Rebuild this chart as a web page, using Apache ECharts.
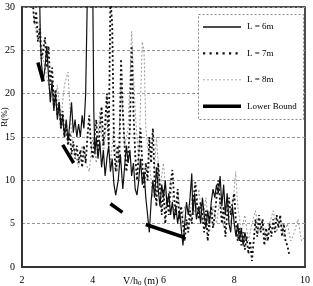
<!DOCTYPE html>
<html>
<head>
<meta charset="utf-8">
<script src="https://cdn.jsdelivr.net/npm/echarts@6/dist/echarts.min.js"></script>
<style>
    html, body { margin: 0; padding: 0; background: #fff; }
    #chart { width: 313px; height: 286px; }
</style>
</head>
<body>
<div id="chart"></div>
<script>
'use strict';
// values, [V/h0, R%]
var xTicks = [2, 4, 6, 8, 10];
var yTicks = [0, 5, 10, 15, 20, 25, 30];
var legendNames = ['L = 6m', 'L = 7m', 'L = 8m', 'Lower Bound'];

var l6 = [
    [2.5,31],[2.52,26],[2.55,23.5],[2.6,21.5],[2.65,23],[2.7,25.5],[2.75,22],[2.8,19],[2.85,21.5],[2.9,18],
    [2.95,20],[3.0,17],[3.05,19],[3.1,16],[3.15,17.5],[3.2,15],[3.25,17],[3.3,14.5],[3.35,16.5],[3.4,19],
    [3.45,15.5],[3.5,17],[3.55,15],[3.6,16.5],[3.65,15],[3.7,17.5],[3.75,16],[3.8,20],[3.85,32],[4.0,32],
    [4.03,18],[4.06,13],[4.1,15],[4.15,12.5],[4.2,14.5],[4.25,11.5],[4.3,13.5],[4.35,10.5],[4.4,12.5],[4.45,14],
    [4.5,11],[4.55,12.5],[4.6,9.5],[4.65,8.3],[4.72,10],[4.78,13],[4.85,9],[4.9,11.5],[4.95,14],[5.0,12],
    [5.05,13.5],[5.1,10.5],[5.15,12],[5.2,9],[5.25,8.3],[5.3,10],[5.35,12.5],[5.4,9.5],[5.45,11],[5.5,8],
    [5.55,6],[5.6,4],[5.65,7.5],[5.7,10],[5.75,8],[5.8,11.5],[5.85,9],[5.9,7],[5.95,9.5],[6.0,8],
    [6.05,10],[6.1,7],[6.15,8.5],[6.2,6],[6.25,7.5],[6.3,5.5],[6.35,7],[6.4,5],[6.45,6.5],[6.5,4.5],
    [6.55,2.5],[6.6,5],[6.65,7.5],[6.7,6],[6.75,8],[6.8,10.8],[6.83,6],[6.88,8.5],[6.93,5.5],[7.0,7],
    [7.05,5],[7.1,8],[7.15,6],[7.2,4.5],[7.25,6.5],[7.3,5],[7.35,7.5],[7.4,9],[7.45,8],[7.5,9.5],
    [7.55,8.5],[7.6,10.5],[7.65,7],[7.7,9.5],[7.75,6],[7.8,8.5],[7.85,5],[7.9,4],[7.95,7],[8.0,5],
    [8.05,3.5],[8.1,5],[8.15,3],[8.2,4.5],[8.25,2.5],[8.3,4],[8.35,3]
];

var l7 = [
    [2.3,31],[2.35,28],[2.4,29.5],[2.45,26],[2.5,27.5],[2.55,24],[2.6,25],[2.65,26.5],[2.7,23],[2.75,25.5],
    [2.8,21],[2.85,23],[2.9,19],[2.95,20.5],[3.0,17.5],[3.05,19],[3.1,16],[3.15,18],[3.2,15],[3.25,16.5],
    [3.3,14],[3.35,15.5],[3.4,13],[3.45,14.5],[3.5,12.5],[3.55,14],[3.6,12],[3.65,13.5],[3.7,11.5],[3.75,14],
    [3.8,12],[3.85,15],[3.9,17.5],[3.95,14],[4.0,12.5],[4.05,15],[4.1,17],[4.15,13],[4.2,16],[4.25,18.5],
    [4.3,14],[4.35,16.5],[4.4,20],[4.45,14],[4.5,31],[4.55,28],[4.6,14],[4.65,11],[4.7,14],[4.75,12],
    [4.8,24],[4.85,18],[4.9,14],[4.95,11],[5.0,13],[5.05,16],[5.1,25.5],[5.15,18],[5.2,13],[5.25,10],
    [5.3,13],[5.35,16],[5.4,12],[5.45,9],[5.5,12],[5.55,10],[5.6,15],[5.65,12],[5.7,16],[5.75,10],
    [5.8,7],[5.85,12],[5.9,9],[5.95,6],[6.0,9],[6.05,5],[6.1,8],[6.15,6],[6.2,9.5],[6.25,11.2],
    [6.3,8],[6.35,6],[6.4,9],[6.45,5.5],[6.5,7],[6.55,5],[6.6,3],[6.65,5.5],[6.7,4],[6.75,6.5],
    [6.8,5],[6.85,8],[6.9,9.8],[6.95,7],[7.0,5.5],[7.05,7.5],[7.1,6],[7.15,4],[7.2,6.5],[7.25,3],
    [7.3,5.5],[7.35,7],[7.4,4.5],[7.45,6],[7.5,8],[7.55,10],[7.6,7.5],[7.65,5],[7.7,7],[7.75,3.5],
    [7.8,6],[7.85,8],[7.9,6],[7.95,7.5],[8.0,8.5],[8.05,5],[8.1,3],[8.15,4.5],[8.2,2.5],[8.25,4],
    [8.3,2],[8.35,3.5],[8.4,1.5],[8.45,3],[8.5,0.7],[8.55,3],[8.6,5.5],[8.65,3.5],[8.7,6],[8.75,4],
    [8.8,5.5],[8.85,2.5],[8.9,4.5],[8.95,3],[9.0,5],[9.05,3.5],[9.1,5.5],[9.15,4],[9.2,6],[9.25,4.5],
    [9.3,6],[9.35,3.5],[9.4,5],[9.45,3],[9.5,2.5],[9.55,1.5]
];

var l8 = [
    [2.3,30],[2.4,27],[2.5,28.5],[2.6,24],[2.7,22],[2.8,20],[2.9,18.5],[3.0,21],[3.1,17],[3.2,21],
    [3.3,22.5],[3.35,19],[3.4,15],[3.5,13],[3.6,11.5],[3.7,14],[3.8,12],[3.9,11],[4.0,15],[4.1,12],
    [4.2,18],[4.3,13],[4.4,17],[4.5,12],[4.6,16],[4.7,11],[4.8,21],[4.9,14],[5.0,16],[5.1,27.2],
    [5.2,18],[5.3,12],[5.4,26],[5.45,25],[5.5,16],[5.6,12],[5.7,8],[5.8,15],[5.9,9],[6.0,12],
    [6.1,7],[6.2,10],[6.3,6],[6.4,9],[6.5,5],[6.6,7],[6.7,4],[6.8,8],[6.9,6],[7.0,9],
    [7.1,5],[7.2,8],[7.3,4],[7.4,7],[7.5,5],[7.6,8],[7.7,4.5],[7.8,7.5],[7.9,5],[8.0,9],
    [8.04,11],[8.1,7],[8.2,4],[8.3,6],[8.4,3],[8.5,5],[8.6,6.5],[8.7,4],[8.8,5.5],[8.9,3],
    [9.0,5],[9.1,6.5],[9.2,4],[9.3,5.5],[9.4,3.5],[9.5,5],[9.6,3],[9.7,4],[9.8,5.5],[9.9,3],[10,3.5]
];

// broken segments, '-' = gap
var lowerBound = [
    [2.45,23.6],[2.6,21.4],[2.8,'-'],
    [3.15,14.1],[3.46,12.0],[4.0,'-'],
    [4.5,7.3],[4.84,6.3],[5.2,'-'],
    [5.5,4.9],[6.6,3.4]
];

var serif = 'Liberation Serif';
var legendStyles = [
    { stroke: '#111', lineWidth: 1.3 },
    { stroke: '#111', lineWidth: 2.2, lineDash: [2.2, 4.3] },
    { stroke: '#aaa', lineWidth: 1, lineDash: [2, 2] },
    { stroke: '#000', lineWidth: 3.5 }
];

// legend box drawn by hand so the line samples match the plot
function buildLegend() {
    var els = [{ type: 'rect', shape: { x: 198.5, y: 14.5, width: 105, height: 105 }, z: 10,
        style: { fill: '#fff', stroke: '#888', lineWidth: 1, lineDash: [2, 2] } }];
    legendNames.forEach(function (name, i) {
        var y = 27 + i * 26.4;
        els.push({ type: 'line', z: 11, shape: { x1: 203, y1: y, x2: 241, y2: y }, style: legendStyles[i] });
        els.push({ type: 'text', z: 11, x: 247, y: y,
            style: { text: name, fontFamily: serif, fontSize: 9, fill: '#000', verticalAlign: 'middle' } });
    });
    return els;
}

var myChart = echarts.init(document.getElementById('chart'));
var option = {
    animation: false,
    backgroundColor: '#fff',
    grid: {
        left: 22, right: 6, top: 7, bottom: 19,
        show: true, borderColor: '#111', borderWidth: 1.5
    },
    xAxis: {
        type: 'value', min: xTicks[0], max: xTicks[xTicks.length - 1], interval: 2,
        axisLine: { lineStyle: { color: '#333', width: 2 } },
        axisTick: { show: false },
        axisLabel: { fontFamily: serif, fontSize: 10, color: '#000', margin: 8 },
        splitLine: { show: false }
    },
    yAxis: {
        type: 'value', min: yTicks[0], max: yTicks[yTicks.length - 1], interval: 5,
        axisLine: { show: true, lineStyle: { color: '#333', width: 2 } },
        axisTick: { show: false },
        axisLabel: { fontFamily: serif, fontSize: 10, color: '#000', margin: 7 },
        splitLine: { lineStyle: { color: '#999', type: [3, 2], width: 1 } }
    },
    series: [
        { name: 'L = 8m', type: 'line', data: l8, symbol: 'none',
          lineStyle: { color: '#9a9a9a', width: 1, type: [2, 2] } },
        { name: 'L = 7m', type: 'line', data: l7, symbol: 'none',
          lineStyle: { color: '#111', width: 1.8, type: [2, 2.5] } },
        { name: 'L = 6m', type: 'line', data: l6, symbol: 'none',
          lineStyle: { color: '#111', width: 1.2 } },
        { name: 'Lower Bound', type: 'line', data: lowerBound, symbol: 'none', connectNulls: false,
          lineStyle: { color: '#000', width: 3.5 } }
    ],
    graphic: buildLegend().concat([
        { type: 'text', x: 5, y: 117, rotation: Math.PI / 2,
          style: { text: 'R(%)', fontFamily: serif, fontSize: 9, fill: '#000', align: 'center', verticalAlign: 'middle' } },
        { type: 'text', x: 123, y: 281,
          style: {
              text: '{a|V/h}{b|0}{a| (m)}', verticalAlign: 'middle',
              rich: {
                  a: { fontFamily: serif, fontSize: 10, fill: '#000', color: '#000' },
                  b: { fontFamily: serif, fontSize: 7, fill: '#000', color: '#000', verticalAlign: 'bottom', padding: [4, 0, 0, 0] }
              }
          } }
    ])
};
myChart.setOption(option);
</script>
</body>
</html>
